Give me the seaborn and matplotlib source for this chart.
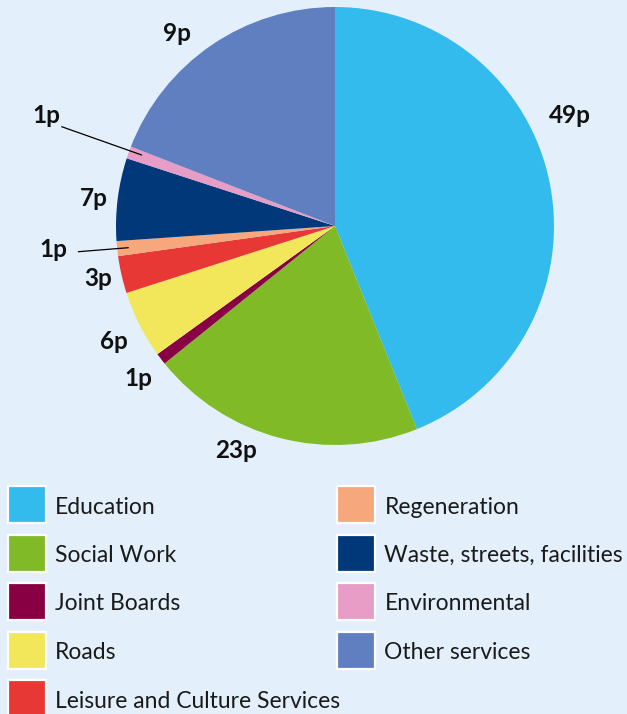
import matplotlib
matplotlib.use("Agg")
import matplotlib.pyplot as plt
from matplotlib.patches import Rectangle
from matplotlib.lines import Line2D
import seaborn as sns

# ---- data ----
categories = ["Education", "Social Work", "Joint Boards", "Roads",
              "Leisure and Culture Services", "Regeneration",
              "Waste, streets, facilities", "Environmental", "Other services"]
shares = [43.9, 20.3, 0.86, 5.0, 2.75, 1.1, 6.1, 0.9, 19.1]
labels = ["49p", "23p", "1p", "6p", "3p", "1p", "7p", "1p", "9p"]
colors = ["#34BBED", "#80BA27", "#880043", "#F2E65A", "#E73835",
          "#F6A77C", "#00387A", "#E79DC6", "#5F7FC0"]

# ---- style / layout ----
W, H = 627, 714
BG = "#E3F0FB"
sns.set_theme(style="white")
plt.rcParams["font.family"] = ["Lato", "DejaVu Sans"]

fig = plt.figure(figsize=(W / 100, H / 100), dpi=100, facecolor=BG)

cx, cy, R = 335, 226, 219
ax = fig.add_axes([(cx - R) / W, (H - cy - R) / H, 2 * R / W, 2 * R / H])
ax.set_facecolor(BG)
ax.pie(shares, colors=colors, startangle=90, counterclock=False,
       radius=1, wedgeprops=dict(linewidth=0))
ax.set_xlim(-1, 1)
ax.set_ylim(-1, 1)
ax.set_axis_off()


def fx(px):
    return px / W


def fy(py):
    return 1 - py / H


# label positions (pixel: centre x, baseline y)
label_pos = [(570, 123), (236.5, 458), (138, 386), (114, 349), (98, 286),
             (53, 257), (94, 206), (46, 123), (177, 41)]
for txt, (px, py) in zip(labels, label_pos):
    fig.text(fx(px), fy(py), txt, ha="center", va="baseline",
             fontsize=17.5, fontweight="bold", color="#111111")

# leader lines for the thin slices
leaders = [((61.7, 126.7), (141.7, 155)), ((78.3, 251.7), (128.3, 247.7))]
for (x0, y0), (x1, y1) in leaders:
    fig.add_artist(Line2D([fx(x0), fx(x1)], [fy(y0), fy(y1)],
                          transform=fig.transFigure, color="black", lw=0.9))

# legend (two columns, column-major)
col_x = [7.5, 337]
text_dx = 47.5
row0, step = 486, 48.5
for i, (name, c) in enumerate(zip(categories, colors)):
    col = 0 if i < 5 else 1
    row = i if i < 5 else i - 5
    x = col_x[col]
    y = row0 + row * step
    fig.add_artist(Rectangle((fx(x), fy(y + 37)), 38 / W, 37 / H,
                             transform=fig.transFigure, facecolor=c,
                             edgecolor="white", linewidth=1.6))
    fig.text(fx(x + text_dx), fy(y + 27.5), name, ha="left", va="baseline",
             fontsize=16.5, color="#1a1a1a")

fig.savefig("out.png", dpi=100, facecolor=BG)
